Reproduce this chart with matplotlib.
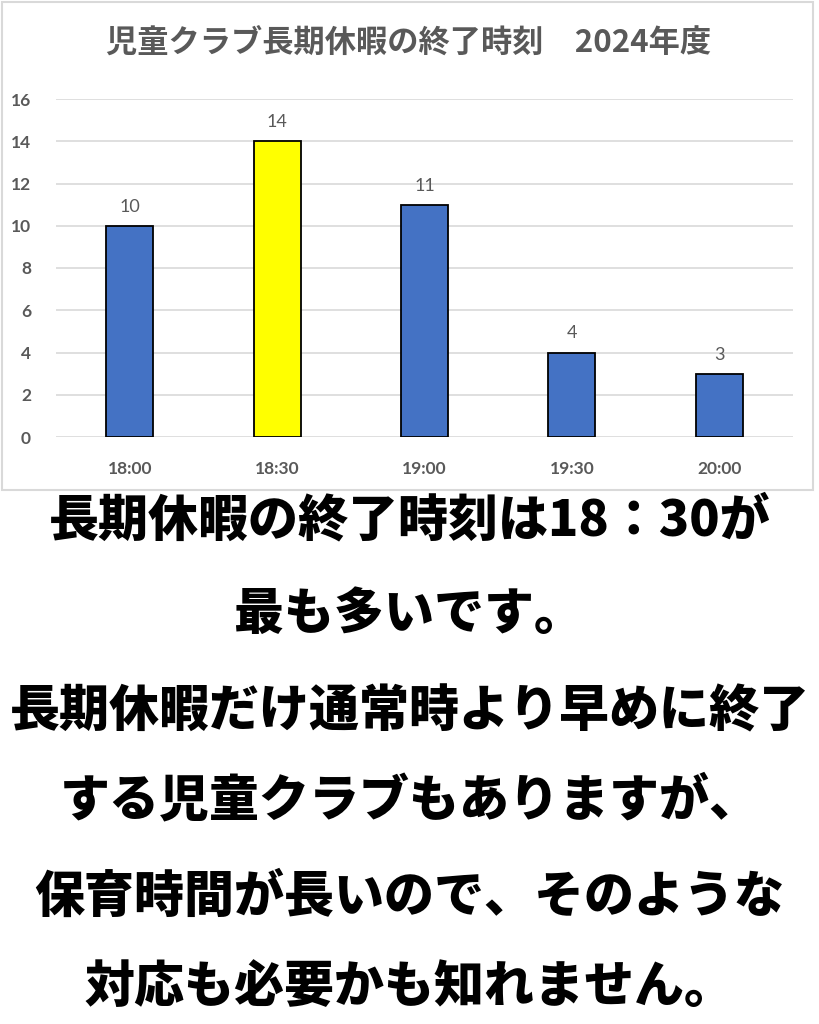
import matplotlib.pyplot as plt
from matplotlib.patches import Rectangle

# データ
times = ['18:00', '18:30', '19:00', '19:30', '20:00']
counts = [10, 14, 11, 4, 3]
bar_colors = ['#4472C4', '#FFFF00', '#4472C4', '#4472C4', '#4472C4']
title = '児童クラブ長期休暇の終了時刻　2024年度'
lines = [
    '長期休暇の終了時刻は18：30が',
    '最も多いです。',
    '長期休暇だけ通常時より早めに終了',
    'する児童クラブもありますが、',
    '保育時間が長いので、そのような',
    '対応も必要かも知れません。',
]
line_y = [520, 614, 711, 800, 897, 987]

W, H = 819, 1024
jp = ['Noto Sans CJK JP', 'DejaVu Sans']
num = ['Lato', 'DejaVu Sans']
gray = '#595959'

fig = plt.figure(figsize=(W / 100, H / 100), dpi=100)

# チャート枠
fig.patches.append(Rectangle((2 / W, 1 - 490 / H), 811 / W, 488 / H,
                             transform=fig.transFigure, fill=False,
                             edgecolor='#D9D9D9', lw=1.5))

ax = fig.add_axes([56 / W, 1 - 437 / H, (793 - 56) / W, (437 - 99) / H])
x = range(len(times))
ax.bar(x, counts, width=0.32, color=bar_colors, edgecolor='black', lw=1.3, zorder=3)
for i, v in zip(x, counts):
    ax.annotate(str(v), (i, v), xytext=(0, 8), textcoords='offset points',
                ha='center', va='bottom', fontsize=13, color=gray, family=num)

ax.set_ylim(0, 16)
ax.set_xlim(-0.5, len(times) - 0.5)
ax.set_yticks(range(0, 17, 2))
ax.set_xticks(list(x))
ax.set_xticklabels(times)
ax.grid(axis='y', color='#D9D9D9', lw=1.2, zorder=0)
for s in ax.spines.values():
    s.set_visible(False)
ax.tick_params(length=0, labelsize=12.5, labelcolor=gray)
ax.tick_params(axis='y', pad=18)
ax.tick_params(axis='x', pad=17)
for lab in ax.get_xticklabels() + ax.get_yticklabels():
    lab.set_family(num)
    lab.set_fontweight('bold')

fig.text(409 / W, 1 - 43 / H, title, ha='center', va='center',
         fontsize=22.5, color=gray, family=jp, fontweight='bold')

for t, yc in zip(lines, line_y):
    fig.text(0.5, 1 - yc / H, t, ha='center', va='center',
             fontsize=36, color='black', family=jp, fontweight='heavy')

fig.savefig('out.png', dpi=100)
